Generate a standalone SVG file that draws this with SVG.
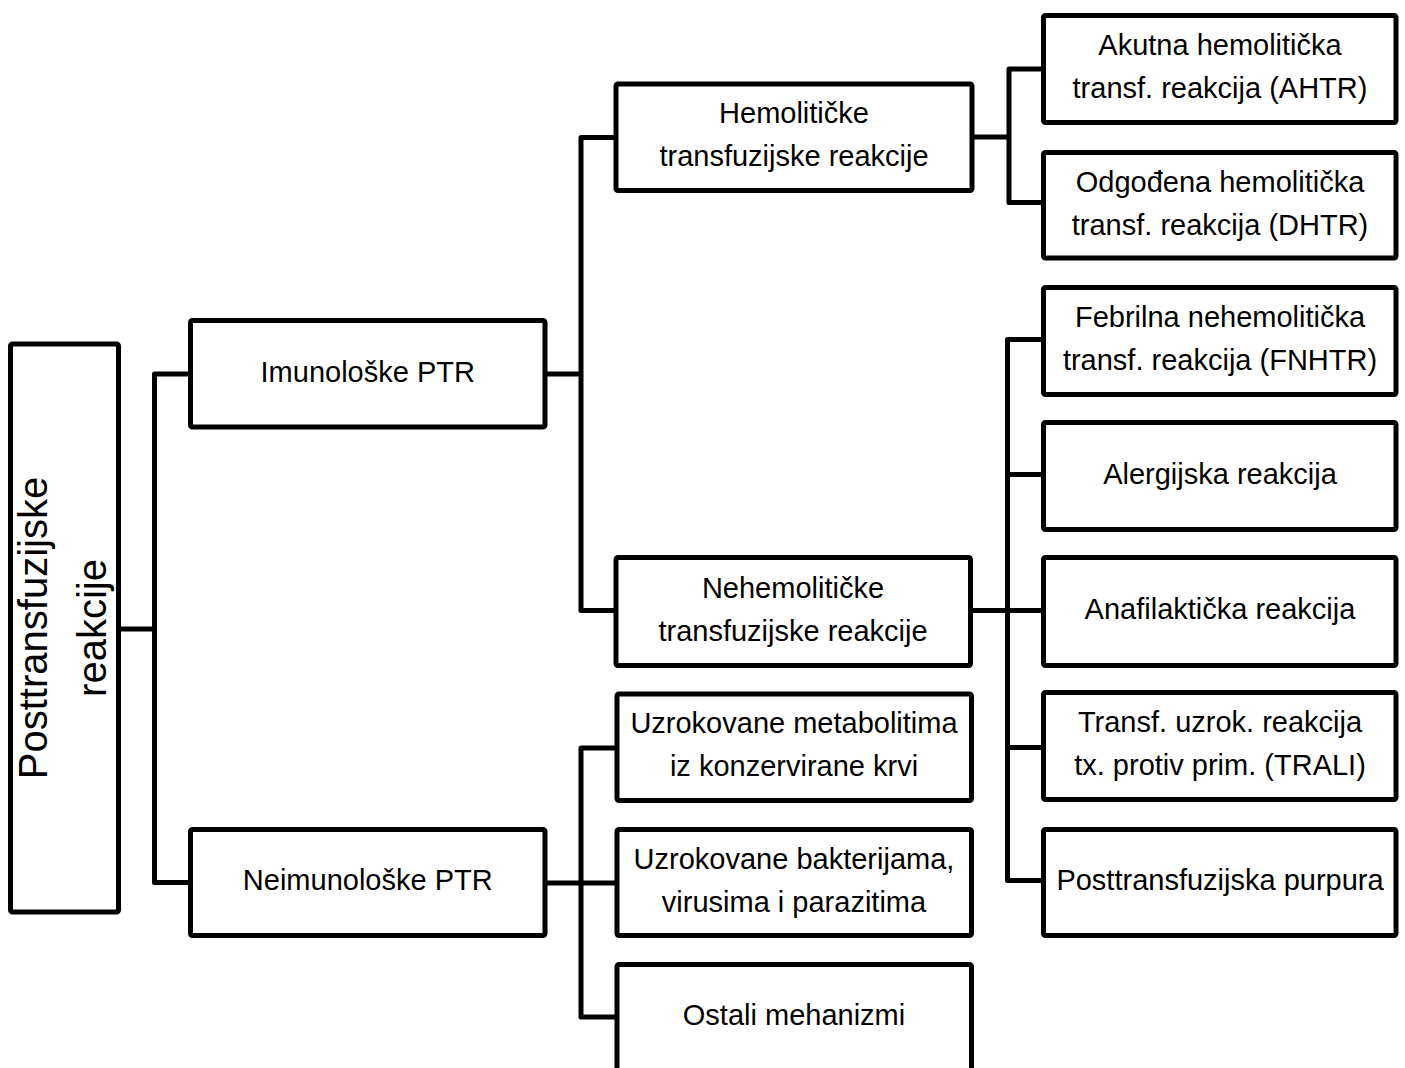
<svg xmlns="http://www.w3.org/2000/svg" width="1405" height="1068" viewBox="0 0 1405 1068">
<style>
.box{fill:#fff;stroke:#000;stroke-width:5;stroke-linejoin:round}
.con{fill:none;stroke:#000;stroke-width:5;stroke-linejoin:round}
text{font-family:"Liberation Sans",Arial,sans-serif;font-size:29px;fill:#000;text-anchor:middle}
.big{font-size:40px}
</style>
<rect width="1405" height="1068" fill="#fff"/>
<g id="connectors">
<path class="con" d="M118.5 629H154.5M190.5 374H154.5V882.5H190.5"/>
<path class="con" d="M545 374H581M616 137.5H581V610.5H616"/>
<path class="con" d="M545 883H581M617 748H581V1017H617M581 883H617"/>
<path class="con" d="M972 137H1009M1043.5 69H1009V202.5H1043.5"/>
<path class="con" d="M970.5 610.5H1043.5M1043.5 339.5H1007.5V880.5H1043.5M1007.5 474.5H1043.5M1007.5 747.5H1043.5"/>
</g>
<g id="root">
<rect class="box" x="10.5" y="344" width="108" height="568" rx="2"/>
<text class="big" transform="translate(47,628) rotate(-90)">Posttransfuzijske</text>
<text class="big" transform="translate(106,628) rotate(-90)">reakcije</text>
</g>
<g id="imunoloske">
<rect class="box" x="190.5" y="320.5" width="354.5" height="106.5" rx="2"/>
<text x="367.75" y="382">Imunološke PTR</text>
</g>
<g id="neimunoloske">
<rect class="box" x="190.5" y="829.5" width="354.5" height="106" rx="2"/>
<text x="367.75" y="890">Neimunološke PTR</text>
</g>
<g id="hemoliticke">
<rect class="box" x="616" y="84" width="356" height="106.5" rx="2"/>
<text x="794" y="123">Hemolitičke</text>
<text x="794" y="166">transfuzijske reakcije</text>
</g>
<g id="nehemoliticke">
<rect class="box" x="616" y="557.5" width="354.5" height="108" rx="2"/>
<text x="793" y="597.5">Nehemolitičke</text>
<text x="793" y="640.5">transfuzijske reakcije</text>
</g>
<g id="metaboliti">
<rect class="box" x="617" y="694" width="354.5" height="106.5" rx="2"/>
<text x="794" y="733">Uzrokovane metabolitima</text>
<text x="794" y="776">iz konzervirane krvi</text>
</g>
<g id="bakterije">
<rect class="box" x="617" y="829.5" width="354.5" height="106" rx="2"/>
<text x="794" y="868.5">Uzrokovane bakterijama,</text>
<text x="794" y="911.5">virusima i parazitima</text>
</g>
<g id="ostali">
<rect class="box" x="617" y="964.5" width="354.5" height="107" rx="2"/>
<text x="794" y="1025">Ostali mehanizmi</text>
</g>
<g id="ahtr">
<rect class="box" x="1043.5" y="15.5" width="352.5" height="107" rx="2"/>
<text x="1220" y="55">Akutna hemolitička</text>
<text x="1220" y="98">transf. reakcija (AHTR)</text>
</g>
<g id="dhtr">
<rect class="box" x="1043.5" y="152.5" width="352.5" height="105.5" rx="2"/>
<text x="1220" y="191.5">Odgođena hemolitička</text>
<text x="1220" y="234.5">transf. reakcija (DHTR)</text>
</g>
<g id="fnhtr">
<rect class="box" x="1043.5" y="287.5" width="352.5" height="107" rx="2"/>
<text x="1220" y="327">Febrilna nehemolitička</text>
<text x="1220" y="370">transf. reakcija (FNHTR)</text>
</g>
<g id="alergijska">
<rect class="box" x="1043.5" y="422.5" width="352.5" height="107" rx="2"/>
<text x="1220" y="483.5">Alergijska reakcija</text>
</g>
<g id="anafilakticka">
<rect class="box" x="1043.5" y="557.5" width="352.5" height="108" rx="2"/>
<text x="1220" y="619">Anafilaktička reakcija</text>
</g>
<g id="trali">
<rect class="box" x="1043.5" y="692.5" width="352.5" height="107" rx="2"/>
<text x="1220" y="732">Transf. uzrok. reakcija</text>
<text x="1220" y="775">tx. protiv prim. (TRALI)</text>
</g>
<g id="purpura">
<rect class="box" x="1043.5" y="829.5" width="352.5" height="106" rx="2"/>
<text x="1220" y="890">Posttransfuzijska purpura</text>
</g>
</svg>
